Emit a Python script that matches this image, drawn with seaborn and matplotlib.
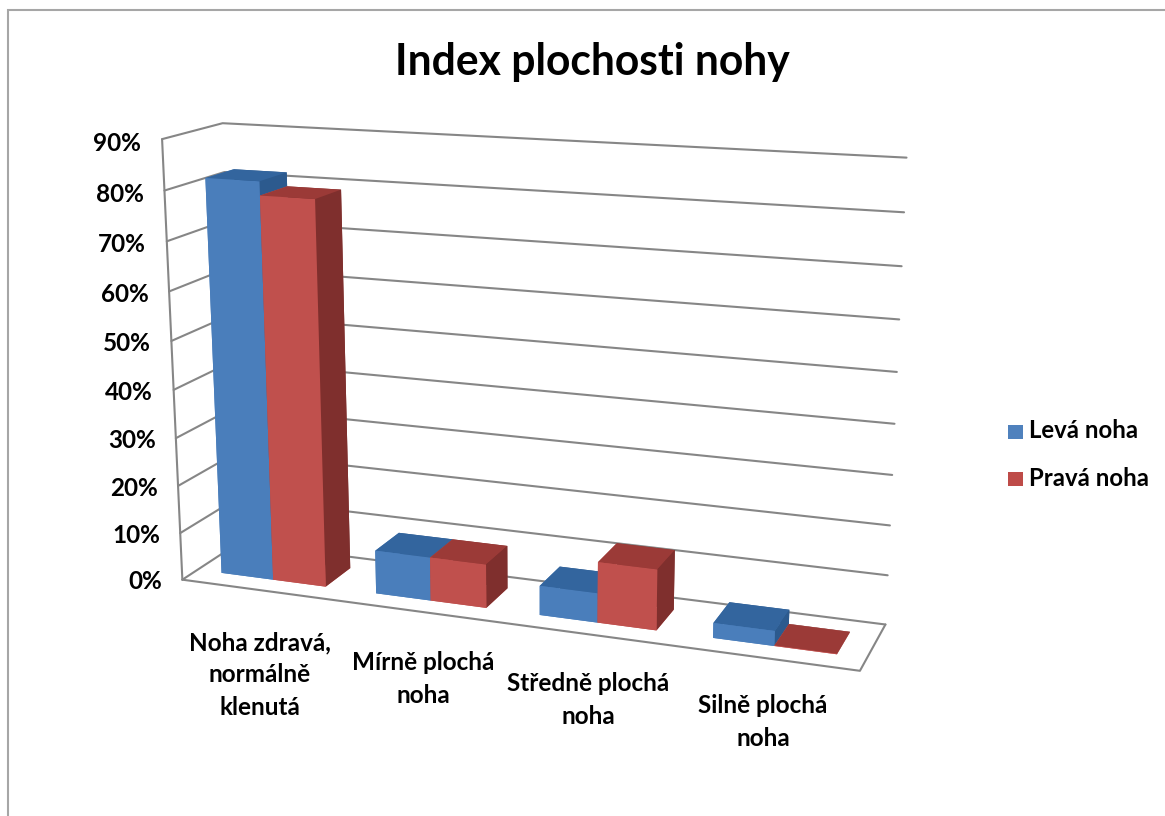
import matplotlib
matplotlib.use("Agg")
import matplotlib.pyplot as plt
from matplotlib.patches import Rectangle
from mpl_toolkits.mplot3d import proj3d
import seaborn as sns

# Survey results: foot flatness index per category, in percent
categories = ["Noha zdravá,\nnormálně\nklenutá", "Mírně plochá\nnoha",
              "Středně plochá\nnoha", "Silně plochá\nnoha"]
left_foot = [81.8, 9.0, 6.0, 3.0]
right_foot = [79.0, 9.0, 12.3, 0.1]
series_names = ["Levá noha", "Pravá noha"]
z_ticks = [0, 10, 20, 30, 40, 50, 60, 70, 80, 90]
title = "Index plochosti nohy"

sns.set_theme(style="white")
plt.rcParams["font.family"] = ["Lato", "DejaVu Sans"]
plt.rcParams["font.weight"] = "bold"

W, H = 1165, 816
fig = plt.figure(figsize=(W / 100, H / 100), dpi=100, facecolor="white")

# Square 3D axes placed so the perspective box sits where the plot area belongs
ax = fig.add_axes([88.6 / W, 0.5 / H, 845.7 / W, 845.7 / H], projection="3d",
                  computed_zorder=False)
ax.set_xlim3d(0, 4, view_margin=0)
ax.set_ylim3d(0, 1, view_margin=0)
ax.set_zlim3d(0, 90, view_margin=0)
ax.set_xticks([])
ax.set_yticks([])
ax.set_zticks([])
ax.set_axis_off()
ax.patch.set_alpha(0)
ax.view_init(14.6945, -69.6171, 0.1112)
ax.set_proj_type("persp", focal_length=0.455)
ax.set_box_aspect((1.5452, 0.2705, 1.0))

# Walls and floor
grid_kw = dict(color="#868686", lw=1.5, zorder=1, solid_capstyle="round")
for z in z_ticks:
    ax.plot([0, 0, 4], [0, 1, 1], [z, z, z], **grid_kw)
ax.plot([0, 0], [0, 0], [0, 90], **grid_kw)
ax.plot([0, 4, 4], [0, 0, 1], [0, 0, 0], **grid_kw)

# Clustered bars, left foot behind right foot in paint order
palettes = [
    {"front": "#4A7EBB", "top": "#33659E", "side": "#2C5A8E"},
    {"front": "#C0504D", "top": "#9B3A37", "side": "#7F2F2D"},
]
bar_w, gap, y0, y1 = 0.34, 0.16, 0.26, 0.74
order = 2
for i in range(len(categories)):
    for j, values in enumerate((left_foot, right_foot)):
        c = palettes[j]
        # bar3d face order: bottom, top, front, back, left, right
        faces = [c["front"], c["top"], c["front"], c["side"], c["front"], c["side"]]
        ax.bar3d(i + gap + j * bar_w, y0, 0, bar_w, y1 - y0, values[i],
                 color=faces, shade=False, linewidth=0, zorder=order)
        order += 1

# Percentage labels beside the left wall, placed through the 3D projection
proj = ax.get_proj()
for z in z_ticks:
    tx, ty, _ = proj3d.proj_transform(-0.135, 0, z - 1, proj)
    fig.text(float(tx), float(ty), f"{z}%", transform=ax.transData, ha="right",
             va="center", fontsize=17.5, fontweight="bold", color="black")

# Category labels below the front edge of the floor
label_centres = [(260, 675), (423, 679), (588, 700), (763, 722)]
for (px, py), label in zip(label_centres, categories):
    fig.text(px / W, 1 - py / H, label, ha="center", va="center", ma="center",
             fontsize=17.5, fontweight="bold", color="black", linespacing=1.48)

fig.text(592 / W, 1 - 62.5 / H, title, ha="center", va="center", fontsize=30.7,
         fontweight="bold", color="black")

# Legend
for (ypix, name, col) in zip((431, 478), series_names, ("#4F81BD", "#BE4B48")):
    fig.add_artist(Rectangle((1008 / W, 1 - (ypix + 8) / H), 15 / W, 14 / H,
                             transform=fig.transFigure, fc=col, ec="none"))
    fig.text(1029 / W, 1 - ypix / H, name, ha="left", va="center", fontsize=17.3,
             fontweight="bold", color="black")

# Chart area border
fig.add_artist(Rectangle((8 / W, -0.1), 1.2, 1.1 - 10 / H, transform=fig.transFigure,
                         fc="none", ec="#A6A6A6", lw=1.5))

fig.savefig("out.png", dpi=100)
